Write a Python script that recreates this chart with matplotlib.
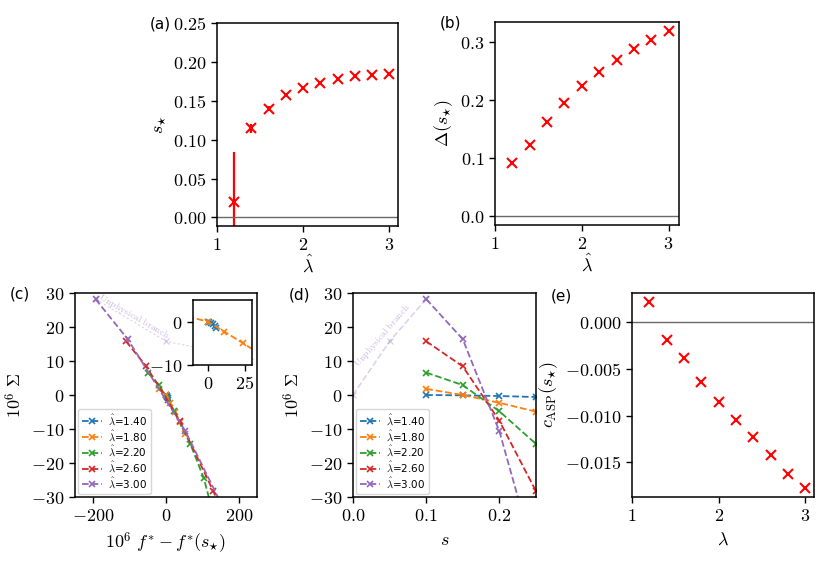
import numpy as np
import matplotlib
matplotlib.use("Agg")
import matplotlib.pyplot as plt
from matplotlib.ticker import FuncFormatter, MultipleLocator

plt.rcParams["mathtext.fontset"] = "cm"
plt.rcParams["font.family"] = ["DejaVu Sans"]
plt.rcParams["axes.linewidth"] = 1.1

# lambda hat grid
lam = [1.2, 1.4, 1.6, 1.8, 2.0, 2.2, 2.4, 2.6, 2.8, 3.0]

# (a) optimal s with error
s_star = [0.0193, 0.1147, 0.140, 0.1568, 0.167, 0.1735, 0.1778, 0.1813, 0.183, 0.1843]
s_star_err = [0.065, 0.006, 0.003, 0.0, 0.0, 0.0, 0.0, 0.0, 0.0, 0.0]

# (b) gap at s*
delta = [0.0902, 0.1213, 0.162, 0.1948, 0.2236, 0.2477, 0.2695, 0.288, 0.304, 0.3184]

# (e) c_ASP at s*
c_asp = [0.00212, -0.00187, -0.00389, -0.0064, -0.00853, -0.01047,
         -0.01227, -0.01421, -0.0163, -0.01773]

# (c)/(d) Sigma curves
s_grid = [0.1, 0.15, 0.2, 0.25, 0.3, 0.35]
lam_curves = [1.40, 1.80, 2.20, 2.60, 3.00]
sigma = {
    1.40: [0.0, -0.1, -0.3, -0.6, -1.0, -1.5],
    1.80: [1.8, 0.0, -2.3, -4.9, -8.0, -11.5],
    2.20: [6.6, 2.9, -4.8, -14.4, -24.5, -36.0],
    2.60: [15.8, 8.4, -7.6, -28.3, -55.0, -90.0],
    3.00: [28.2, 16.4, -10.7, -49.0, -95.0, -150.0],
}
dfree = {
    1.40: [0.0, 1.0, 2.2, 3.4, 4.6, 5.8],
    1.80: [-20.0, 0.0, 11.3, 23.6, 38.0, 52.0],
    2.20: [-49.8, -18.5, 22.0, 67.0, 104.0, 132.0],
    2.60: [-110.0, -54.0, 38.0, 130.0, 240.0, 360.0],
    3.00: [-193.6, -105.0, 53.5, 230.0, 450.0, 700.0],
}
colors = ["C0", "C1", "C2", "C3", "C4"]

# unphysical branch for lambda=3
s_unphys = [0.0, 0.05, 0.1]
sigma_unphys = [0.0, 15.8, 28.2]
df_unphys = [720.0, 0.0, -193.6]

W, H = 831, 561
fig = plt.figure(figsize=(W / 100, H / 100), dpi=100)


def px_axes(x0, y0, x1, y1):
    return fig.add_axes([x0 / W, 1 - y1 / H, (x1 - x0) / W, (y1 - y0) / H])


def fmt(n):
    return FuncFormatter(lambda v, p: f"${v:.{n}f}$")


TICK = 13
LAB = 13
LEG = dict(loc="lower left", fontsize=7.5, handlelength=1.9, borderaxespad=0.3,
           labelspacing=0.15, borderpad=0.35, handletextpad=0.6)


def style(ax):
    ax.tick_params(labelsize=TICK, width=1.0, length=4)


ax_a = px_axes(217, 23, 398, 226)
ax_b = px_axes(495, 22, 679, 225)
ax_c = px_axes(75, 293, 257, 497)
ax_d = px_axes(353, 293, 536, 497)
ax_e = px_axes(632, 293, 814, 497)

# (a)
ax_a.errorbar(lam, s_star, yerr=s_star_err, fmt="x", color="red",
              markersize=7, mew=1.5, elinewidth=1.6)
ax_a.axhline(0, color="dimgray", lw=1.0)
ax_a.set_xlim(1, 3.1)
ax_a.set_ylim(-0.011, 0.25)
ax_a.yaxis.set_major_locator(MultipleLocator(0.05))
ax_a.yaxis.set_major_formatter(fmt(2))
ax_a.xaxis.set_major_locator(MultipleLocator(1))
ax_a.xaxis.set_major_formatter(fmt(0))
ax_a.set_xlabel(r"$\hat{\lambda}$", fontsize=LAB, labelpad=0)
ax_a.set_ylabel(r"$s_{\star}$", fontsize=LAB)
style(ax_a)

# (b)
ax_b.plot(lam, delta, "x", color="red", markersize=7, mew=1.5)
ax_b.axhline(0, color="dimgray", lw=1.0)
ax_b.set_xlim(1, 3.12)
ax_b.yaxis.set_major_locator(MultipleLocator(0.1))
ax_b.yaxis.set_major_formatter(fmt(1))
ax_b.xaxis.set_major_locator(MultipleLocator(1))
ax_b.xaxis.set_major_formatter(fmt(0))
ax_b.set_xlabel(r"$\hat{\lambda}$", fontsize=LAB, labelpad=0)
ax_b.set_ylabel(r"$\Delta(s_{\star})$", fontsize=LAB)
style(ax_b)

# (c)
for l, c in zip(lam_curves, colors):
    ax_c.plot(dfree[l], sigma[l], "--x", color=c, lw=1.3, markersize=4.5,
              mew=1.2, label=r"$\hat{\lambda}$=" + f"{l:.2f}")
ax_c.plot(df_unphys, sigma_unphys, linestyle=(0, (2, 2)), marker="x",
          color="C4", alpha=0.3, lw=0.8, markersize=4.5)
ax_c.text(-88, 23, r"$\mathrm{Unphysical\ branch}$", color="C4", alpha=0.45,
          fontsize=7, rotation=-30, ha="center", va="center")
ax_c.set_xlim(-250, 250)
ax_c.set_ylim(-30, 30)
ax_c.xaxis.set_major_locator(MultipleLocator(200))
ax_c.xaxis.set_major_formatter(fmt(0))
ax_c.yaxis.set_major_locator(MultipleLocator(10))
ax_c.yaxis.set_major_formatter(fmt(0))
ax_c.set_xlabel(r"$10^6\ f^{*}-f^{*}(s_{\star})$", fontsize=LAB)
ax_c.set_ylabel(r"$10^6\ \Sigma$", fontsize=LAB)
ax_c.legend(**LEG)
style(ax_c)

# inset of (c)
ax_in = px_axes(193, 300, 252, 365)
for l, c in zip(lam_curves[:2], colors[:2]):
    ax_in.plot(dfree[l], sigma[l], "--x", color=c, lw=1.3, markersize=4.5, mew=1.2)
ax_in.set_xlim(-10, 30)
ax_in.set_ylim(-10, 5)
ax_in.set_xticks([0, 25])
ax_in.set_yticks([-10, 0])
ax_in.xaxis.set_major_formatter(fmt(0))
ax_in.yaxis.set_major_formatter(fmt(0))
style(ax_in)

# (d)
for l, c in zip(lam_curves, colors):
    ax_d.plot(s_grid, sigma[l], "--x", color=c, lw=1.3, markersize=4.5,
              mew=1.2, label=r"$\hat{\lambda}$=" + f"{l:.2f}")
ax_d.plot(s_unphys, sigma_unphys, "--x", color="C4", alpha=0.3, lw=1.2,
          markersize=4.5)
ax_d.text(0.04, 17.7, r"$\mathrm{Unphysical\ branch}$", color="C4", alpha=0.45,
          fontsize=7, rotation=49, ha="center", va="center")
ax_d.set_xlim(0, 0.25)
ax_d.set_ylim(-30, 30)
ax_d.xaxis.set_major_locator(MultipleLocator(0.1))
ax_d.xaxis.set_major_formatter(fmt(1))
ax_d.yaxis.set_major_locator(MultipleLocator(10))
ax_d.yaxis.set_major_formatter(fmt(0))
ax_d.set_xlabel(r"$s$", fontsize=LAB)
ax_d.set_ylabel(r"$10^6\ \Sigma$", fontsize=LAB)
ax_d.legend(**LEG)
style(ax_d)

# (e)
ax_e.plot(lam, c_asp, "x", color="red", markersize=7, mew=1.5)
ax_e.axhline(0, color="dimgray", lw=1.0)
ax_e.set_xlim(1, 3.1)
ax_e.yaxis.set_major_locator(MultipleLocator(0.005))
ax_e.yaxis.set_major_formatter(fmt(3))
ax_e.xaxis.set_major_locator(MultipleLocator(1))
ax_e.xaxis.set_major_formatter(fmt(0))
ax_e.set_xlabel(r"$\lambda$", fontsize=LAB)
ax_e.set_ylabel(r"$c_{\mathrm{ASP}}(s_{\star})$", fontsize=LAB)
style(ax_e)

# panel labels
for lbl, (x, y) in zip(["(a)", "(b)", "(c)", "(d)", "(e)"],
                       [(160, 24), (450, 23), (20, 294), (300, 295), (561, 296)]):
    fig.text(x / W, 1 - y / H, lbl, fontsize=11, ha="center", va="center")

fig.savefig("out.png", dpi=100)
